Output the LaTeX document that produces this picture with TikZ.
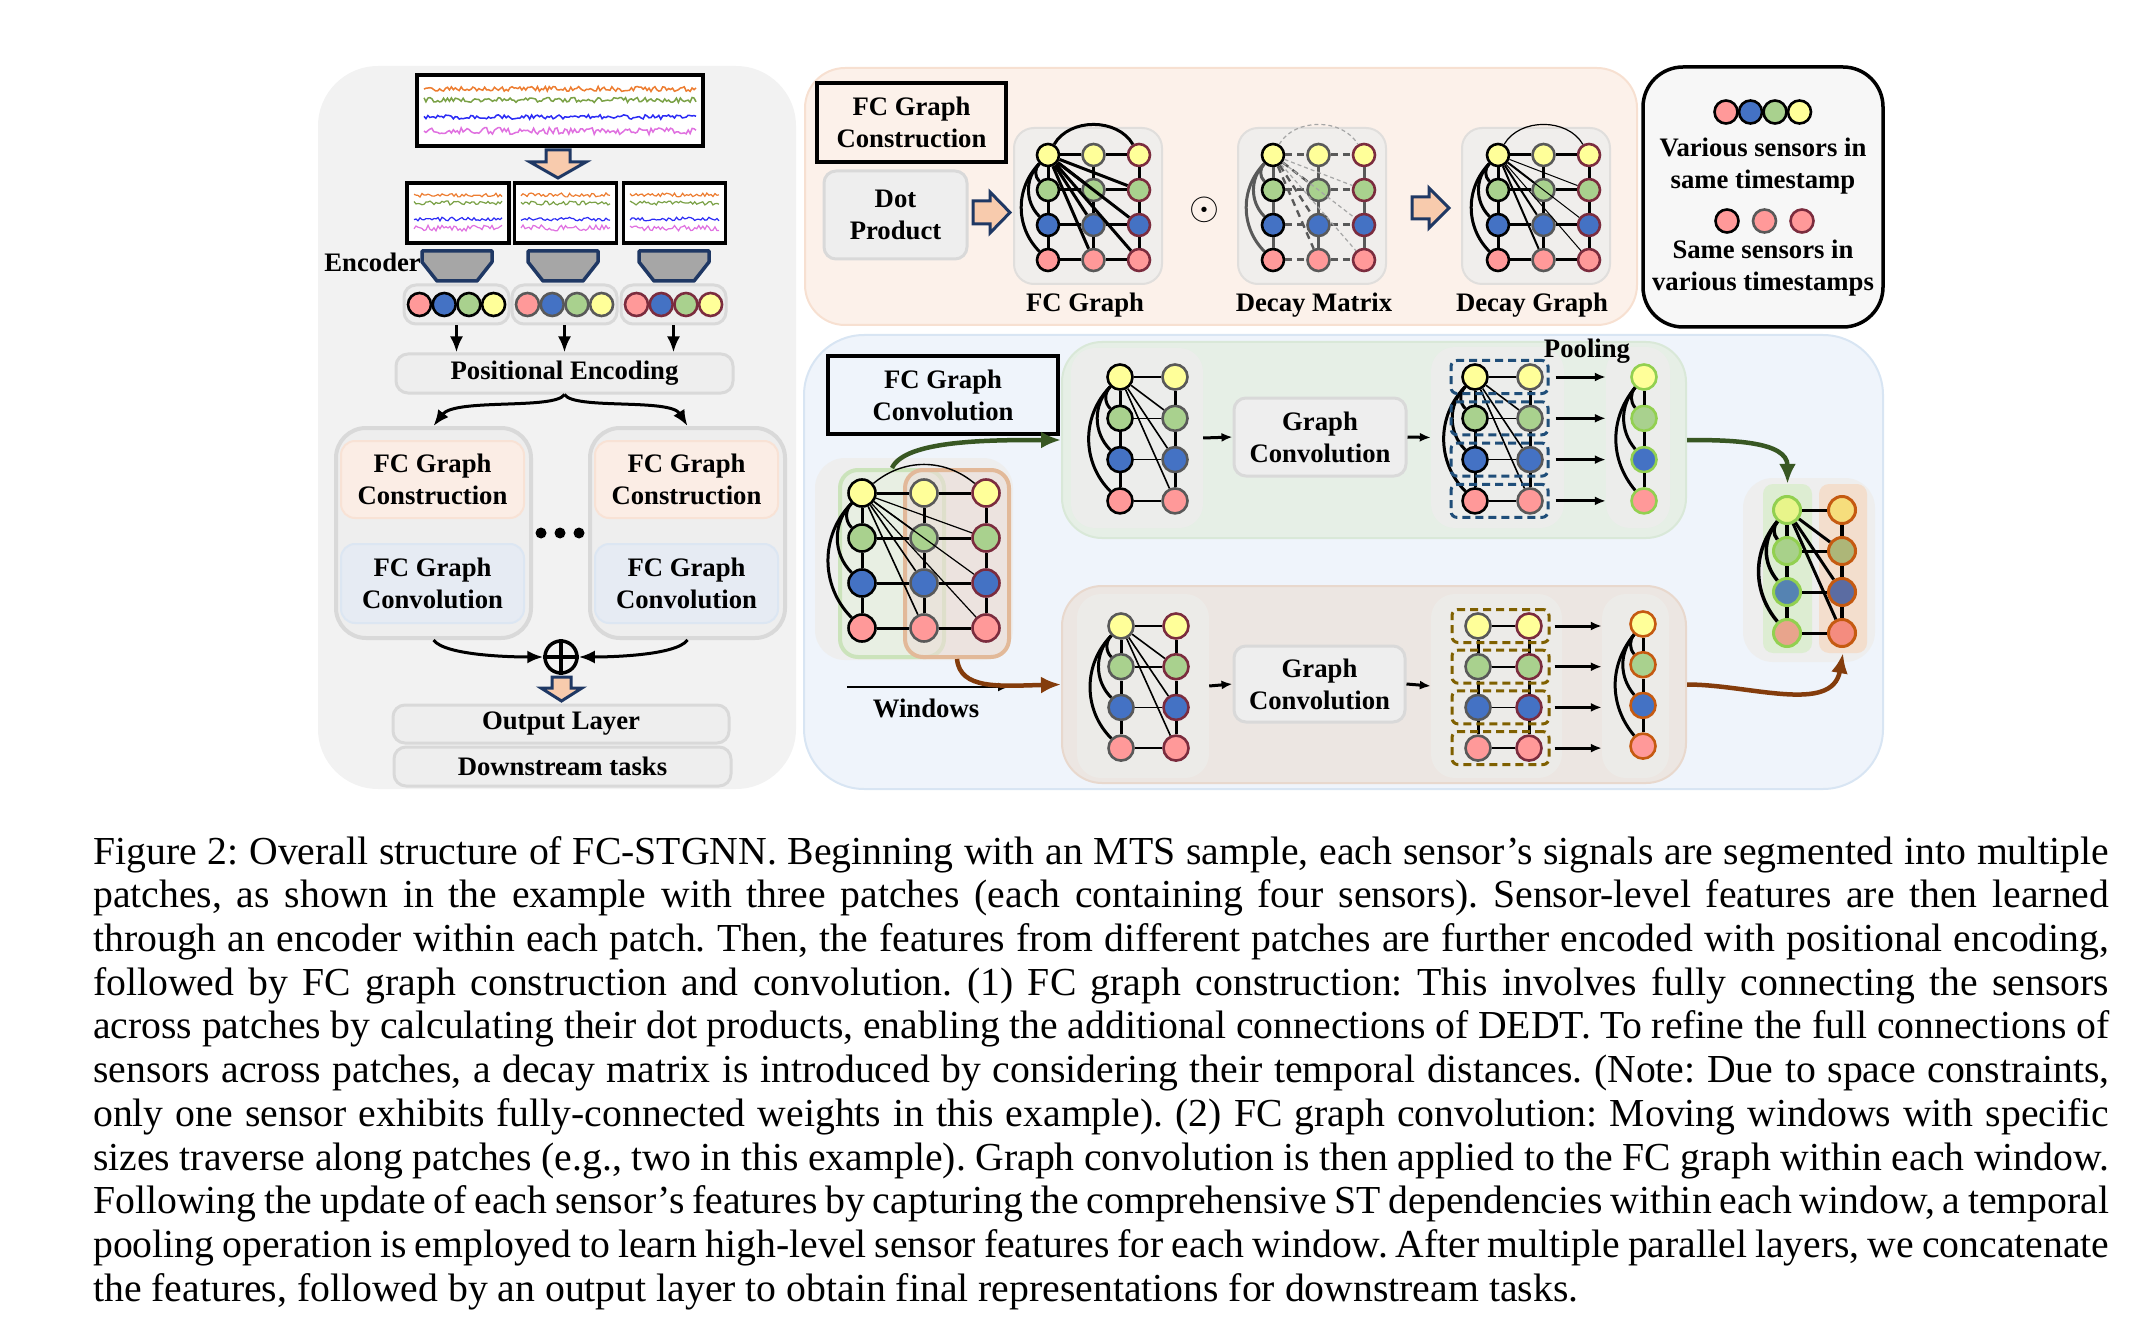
\documentclass[tikz,border=0pt]{standalone}
\usepackage{fontspec}
\setmainfont{Liberation Serif}
\usetikzlibrary{arrows.meta,positioning,calc}

% sensor colours
\definecolor{sy}{HTML}{FFFF99}
\definecolor{sg}{HTML}{A9D18E}
\definecolor{sb}{HTML}{4472C4}
\definecolor{sp}{HTML}{FF9999}
\definecolor{bgray}{HTML}{595959}
\definecolor{bmaroon}{HTML}{7B2C3E}
\definecolor{bgreen}{HTML}{92D050}
\definecolor{borange}{HTML}{C55A11}
% output graph colours
\definecolor{og1}{HTML}{E8F58A}
\definecolor{og2}{HTML}{A8D18A}
\definecolor{og3}{HTML}{5583B2}
\definecolor{og4}{HTML}{E8A48C}
\definecolor{ob1}{HTML}{F6DD7C}
\definecolor{ob2}{HTML}{ADB678}
\definecolor{ob3}{HTML}{5B6CA2}
\definecolor{ob4}{HTML}{F48C7F}
% boxes and arrows
\definecolor{navy}{HTML}{1F3864}
\definecolor{peach}{HTML}{F8CBAD}
\definecolor{encgray}{HTML}{A6A6A6}
\definecolor{panelgray}{HTML}{F2F2F2}
\definecolor{boxfill}{HTML}{EEEEEE}
\definecolor{boxline}{HTML}{D9D9D9}
\definecolor{confill}{HTML}{FBEDE5}
\definecolor{conline}{HTML}{F8E2D5}
\definecolor{cvfill}{HTML}{E6EBF3}
\definecolor{cvline}{HTML}{DCE6F2}
\definecolor{toppanel}{HTML}{FCF1EA}
\definecolor{topline}{HTML}{F7E0D1}
\definecolor{gpanel}{HTML}{F0EEEC}
\definecolor{gline}{HTML}{E0DEDC}
\definecolor{botpanel}{HTML}{EFF4FB}
\definecolor{botline}{HTML}{D8E5F3}
\definecolor{uppanel}{HTML}{E6EFE6}
\definecolor{upline}{HTML}{D9E8D8}
\definecolor{lopanel}{HTML}{ECE6E2}
\definecolor{loline}{HTML}{E8D8CD}
\definecolor{subfill}{HTML}{ECEDEB}
\definecolor{winbrown}{HTML}{EBDDD6}
\definecolor{winbrownline}{HTML}{E2B999}
\definecolor{darkgreen}{HTML}{385723}
\definecolor{darkbrown}{HTML}{843C0C}
\definecolor{dashblue}{HTML}{1F4E79}
\definecolor{dasholive}{HTML}{7F6000}
\definecolor{sigorange}{HTML}{ED7D31}
\definecolor{siggreen}{HTML}{7AA146}
\definecolor{sigblue}{HTML}{2B2BF5}
\definecolor{sigpink}{HTML}{E070E0}

\newcommand{\lblfont}{\fontsize{26.7}{32}\selectfont\bfseries}

\tikzset{
  sensor/.style={circle, draw, line width=2.6pt, inner sep=0pt},
  lbl/.style={font=\lblfont, align=center, inner sep=0pt},
  softbox/.style={draw=boxline, fill=boxfill, line width=3pt, rounded corners=12pt},
  plainbox/.style={draw=black, line width=3.5pt},
  blockarrow/.style={fill=peach, draw=navy, line width=3pt},
  arr/.style={-{Latex[length=16pt,width=13pt]}, line width=3.5pt},
  smallarr/.style={-{Latex[length=11pt,width=9pt]}, line width=3pt},
  bigarr/.style={-{Latex[length=20pt,width=17pt]}, line width=4.5pt},
  edge/.style={line width=3pt},
  thinedge/.style={line width=1.6pt},
  dashedge/.style={line width=3pt, draw=bgray, dash pattern=on 7pt off 5pt},
  dbox/.style={line width=3pt, dash pattern=on 8pt off 5pt, rounded corners=6pt,
    minimum width=97pt, minimum height=33pt},
}

% sensors of a graph: name, x, y, dx, dy, size, column/border list
\newcommand{\sensorgrid}[7]{%
  \foreach \cl/\bc in {#7}{%
    \foreach \rw/\fc in {1/sy,2/sg,3/sb,4/sp}{%
      \node[sensor, minimum size=#6, draw=\bc, fill=\fc] (#1\cl\rw)
        at ({#2+(\cl-1)*#4},{#3+(\rw-1)*#5}) {};
    }}}
% grid edges: name, columns, column pairs, vertical style, horizontal style
\newcommand{\gridedges}[5]{%
  \foreach \cl in {#2}{\foreach \rw/\nx in {1/2,2/3,3/4} \draw[#4] (#1\cl\rw) -- (#1\cl\nx);}
  \foreach \rw in {1,...,4}{\foreach \cl/\nx in {#3} \draw[#5] (#1\cl\rw) -- (#1\nx\rw);}}

\begin{document}
\begin{tikzpicture}[x=1pt, y=-1pt]
\useasboundingbox (0,0) rectangle (2141,1321);

% ------------------------------------------------ left column
\node[fill=panelgray, rounded corners=60pt, minimum width=478pt, minimum height=723pt] (left) at (557,427.5) {};
\node[plainbox, fill=white, minimum width=286pt, minimum height=71pt] (mts) at (560,110.5) {};
\pgfmathsetseed{11}
\foreach \col/\yy/\amp in {sigorange/89/2.5, siggreen/100/2.5, sigblue/117/2.2, sigpink/131/3.5}
  \draw[\col, line width=1.5pt] plot[domain=424:696, samples=140] (\x,{\yy+\amp*rand});
\draw[blockarrow] (546,150) -- (570,150) -- (570,162) -- (586,162) -- (558,178) -- (530,162) -- (546,162) -- cycle;

\foreach \i/\cx/\lo/\hi in {1/458/414/502, 2/565.5/521/610, 3/674.5/630/719}{
  \node[plainbox, fill=white, minimum width=102pt, minimum height=60pt] (patch\i) at (\cx,213) {};
  \foreach \col/\yy/\amp in {sigorange/195/2, siggreen/203/2, sigblue/219/1.8, sigpink/228/3}
    \draw[\col, line width=1.2pt] plot[domain=\lo:\hi, samples=45] (\x,{\yy+\amp*rand});
}
\foreach \L in {422,528,639}
  \draw[fill=encgray, draw=navy, line width=3.5pt, line join=round]
    (\L,251) -- ++(70,0) -- ++(0,11) -- ++(-15,19) -- ++(-40,0) -- ++(-15,-19) -- cycle;
\node[lbl, anchor=east] (enc) at (421,262) {Encoder};

\node[softbox, lbl, minimum width=337pt, minimum height=39pt] (pe) at (564.5,373.5) {Positional Encoding};
\foreach \i/\cx/\bc in {1/456.5/black, 2/564.5/bgray, 3/673.5/bmaroon}{
  \node[softbox, minimum width=105pt, minimum height=39pt] (grp\i) at (\cx,304.5) {};
  \foreach \k/\fc in {1/sp,2/sb,3/sg,4/sy}
    \node[sensor, minimum size=23pt, draw=\bc, fill=\fc] (grp\i-\k) at ({\cx-37+(\k-1)*24.7},304.5) {};
  \draw[arr] (grp\i.south) -- (grp\i.south |- pe.north);
}

\foreach \i/\cx in {1/433.5, 2/687.5}{
  \node[softbox, line width=4pt, rounded corners=30pt, minimum width=195pt, minimum height=210pt] (blk\i) at (\cx,533) {};
  \node[lbl, fill=confill, draw=conline, line width=2pt, rounded corners=14pt, minimum width=183pt, minimum height=77pt]
    (con\i) at (\cx-1,479.5) {FC Graph\\Construction};
  \node[lbl, fill=cvfill, draw=cvline, line width=2pt, rounded corners=14pt, minimum width=183pt, minimum height=79pt]
    (cv\i) at (\cx-1,583.5) {FC Graph\\Convolution};
}
\foreach \dx in {541,560,579} \fill (\dx,533) circle (5.5pt);
\draw[arr, line width=3pt] (pe.south) .. controls (555,410) and (455,398) .. (blk1.north);
\draw[arr, line width=3pt] (pe.south) .. controls (574,410) and (670,398) .. (blk2.north);

\node[circle, draw, line width=3.5pt, minimum size=32pt, inner sep=0pt] (plus) at (561,657) {};
\draw[line width=3.5pt] (plus.north) -- (plus.south) (plus.west) -- (plus.east);
\draw[arr, line width=3pt] (blk1.south) .. controls (445,656) and (515,657) .. (plus.west);
\draw[arr, line width=3pt] (blk2.south) .. controls (676,656) and (606,657) .. (plus.east);
\draw[blockarrow] (552,677) -- (571,677) -- (571,688) -- (582,688) -- (561.5,701) -- (541,688) -- (552,688) -- cycle;
\node[softbox, lbl, minimum width=336pt, minimum height=38pt] (outl) at (561,724) {Output Layer};
\node[softbox, lbl, minimum width=337pt, minimum height=39pt] (down) at (562.5,766.5) {Downstream tasks};

% ------------------------------------------------ FC graph construction
\node[fill=toppanel, draw=topline, line width=2pt, rounded corners=40pt, minimum width=832pt, minimum height=257pt] (top) at (1221,196.5) {};
\node[plainbox, lbl, minimum width=189pt, minimum height=79pt] (fcgc) at (911.5,122.5) {FC Graph\\Construction};
\node[softbox, lbl, minimum width=143pt, minimum height=88pt] (dot) at (895.5,215) {Dot\\Product};
\draw[blockarrow] (973,201) -- (990,201) -- (990,192) -- (1010,212.5) -- (990,233) -- (990,224) -- (973,224) -- cycle;
\draw[blockarrow] (1412,197) -- (1429,197) -- (1429,188) -- (1449,208) -- (1429,228) -- (1429,219) -- (1412,219) -- cycle;
\foreach \n/\cx in {gp1/1088, gp2/1312, gp3/1536}
  \node[fill=gpanel, draw=gline, line width=2pt, rounded corners=20pt, minimum width=148pt, minimum height=156pt] (\n) at (\cx,206) {};
\node[font=\lblfont, scale=1.55, inner sep=0pt] (odot) at (1204,210) {$\odot$};
\node[lbl] (fclbl) at (1085,305) {FC Graph};
\node[lbl] (dmlbl) at (1314,305) {Decay Matrix};
\node[lbl] (dglbl) at (1532,305) {Decay Graph};

% FC graph
\sensorgrid{fc}{1048}{155}{45.5}{35}{22pt}{1/black,2/bgray,3/bmaroon}
\gridedges{fc}{1,2,3}{1/2,2/3}{edge}{edge}
\foreach \rw in {2,3,4}{
  \draw[edge] (fc11) to[bend right=45] (fc1\rw);
  \draw[edge] (fc11) -- (fc2\rw);
  \draw[edge] (fc11) -- (fc3\rw);}
\draw[edge] (fc11) to[bend left=60] (fc31);

% decay matrix
\sensorgrid{dm}{1273}{155}{45.5}{35}{22pt}{1/black,2/bgray,3/bmaroon}
\gridedges{dm}{1,2,3}{1/2,2/3}{edge, draw=bgray}{dashedge}
\foreach \rw in {2,3,4}{
  \draw[edge, draw=bgray] (dm11) to[bend right=45] (dm1\rw);
  \draw[dashedge, line width=2.4pt] (dm11) -- (dm2\rw);
  \draw[dashedge, line width=1.2pt, draw=gray!70, dash pattern=on 4pt off 3pt] (dm11) -- (dm3\rw);}
\draw[dashedge, line width=1.2pt, draw=gray!70, dash pattern=on 4pt off 3pt] (dm11) to[bend left=60] (dm31);

% decay graph
\sensorgrid{dg}{1498}{155}{45.5}{35}{22pt}{1/black,2/bgray,3/bmaroon}
\gridedges{dg}{1,2,3}{1/2,2/3}{edge}{edge}
\foreach \rw in {2,3,4}{
  \draw[edge] (dg11) to[bend right=45] (dg1\rw);
  \draw[line width=2pt] (dg11) -- (dg2\rw);
  \draw[line width=1pt] (dg11) -- (dg3\rw);}
\draw[line width=1.2pt] (dg11) to[bend left=60] (dg31);

% legend
\node[draw=black, fill=white!97!black, line width=3.5pt, rounded corners=40pt, minimum width=240pt, minimum height=260pt] (legend) at (1763,197) {};
\foreach \k/\cx/\fc in {1/1726/sp, 2/1750.5/sb, 3/1775/sg, 4/1799.5/sy}
  \node[sensor, minimum size=23pt, fill=\fc] (lga\k) at (\cx,112) {};
\foreach \k/\cx/\bc in {1/1727/black, 2/1764.5/bgray, 3/1802/bmaroon}
  \node[sensor, minimum size=23pt, draw=\bc, fill=sp] (lgb\k) at (\cx,221) {};
\node[lbl] (lgta) at (1763,166) {Various sensors in\\same timestamp};
\node[lbl] (lgtb) at (1763,268.5) {Same sensors in\\various timestamps};

% ------------------------------------------------ FC graph convolution
\node[fill=botpanel, draw=botline, line width=2pt, rounded corners=60pt, minimum width=1079pt, minimum height=454pt] (bot) at (1343.5,562) {};
\node[plainbox, lbl, minimum width=230pt, minimum height=78pt] (fcconv) at (943,395) {FC Graph\\Convolution};

% windows over the patches
\node[fill=boxfill, rounded corners=30pt, minimum width=198pt, minimum height=202pt] (wbg) at (914,559) {};
\node[fill=sg!30, fill opacity=0.6, draw=sg!60, line width=4pt, rounded corners=18pt, minimum width=104pt, minimum height=187pt] (wgreen) at (892,563.5) {};
\node[fill=winbrown, fill opacity=0.6, draw=winbrownline, line width=4pt, rounded corners=18pt, minimum width=104pt, minimum height=187pt] (wbrown) at (957,563.5) {};
\sensorgrid{wg}{862}{493}{62}{45}{27pt}{1/black,2/bgray,3/bmaroon}
\gridedges{wg}{1,2,3}{1/2,2/3}{edge}{edge}
\foreach \rw in {2,3,4}{
  \draw[edge] (wg11) to[bend right=45] (wg1\rw);
  \draw[thinedge] (wg11) -- (wg2\rw);
  \draw[line width=1.2pt] (wg11) -- (wg3\rw);}
\draw[line width=1.4pt] (wg11) to[bend left=40] (wg31);
\coordinate (wa) at (847,687);
\coordinate (wb) at (1009,687);
\draw[smallarr, line width=2.5pt] (wa) -- (wb);
\node[lbl] (wlbl) at (926,708) {Windows};

% upper window
\node[fill=uppanel, draw=upline, line width=2pt, rounded corners=40pt, minimum width=624pt, minimum height=196pt] (up) at (1374,440) {};
\node[fill=subfill, rounded corners=24pt, minimum width=132pt, minimum height=180pt] (u1) at (1137,438) {};
\node[fill=subfill, rounded corners=24pt, minimum width=133pt, minimum height=181pt] (u2) at (1497.5,437.5) {};
\node[fill=subfill, rounded corners=24pt, minimum width=64pt, minimum height=181pt] (u3) at (1638,437.5) {};
\node[softbox, lbl, minimum width=172pt, minimum height=78pt] (gcu) at (1320,437) {Graph\\Convolution};
\sensorgrid{ua}{1120}{377}{55}{41.3}{25pt}{1/black,2/bgray}
\gridedges{ua}{1,2}{1/2}{edge}{thinedge}
\foreach \rw in {2,3,4}{
  \draw[edge] (ua11) to[bend right=45] (ua1\rw);
  \draw[thinedge] (ua11) -- (ua2\rw);}
\sensorgrid{ub}{1475}{377}{55}{41.3}{25pt}{1/black,2/bgray}
\gridedges{ub}{1,2}{1/2}{edge}{thinedge}
\foreach \rw in {2,3,4}{
  \draw[edge] (ub11) to[bend right=45] (ub1\rw);
  \draw[thinedge] (ub11) -- (ub2\rw);}
\foreach \rw in {1,...,4}{
  \node[dbox, draw=dashblue] (ud\rw) at (1499.5,{377+(\rw-1)*41.3}) {};
  \draw[smallarr] (ud\rw.east) ++(6,0) -- (ud\rw.east -| u3.west);}
\foreach \rw/\fc in {1/sy,2/sg,3/sb,4/sp}
  \node[sensor, minimum size=25pt, draw=bgreen, fill=\fc] (pa\rw) at (1644,{377+(\rw-1)*41.3}) {};
\foreach \rw/\nx in {1/2,2/3,3/4} \draw[edge] (pa\rw) -- (pa\nx);
\foreach \rw in {2,3,4} \draw[edge] (pa1) to[bend right=40] (pa\rw);
\draw[smallarr] (u1.east) -- (gcu.west);
\draw[smallarr] (gcu.east) -- (u2.west);
\node[lbl] (pool) at (1587,351) {Pooling};

% lower window
\node[fill=lopanel, draw=loline, line width=2pt, rounded corners=40pt, minimum width=624pt, minimum height=197pt] (lo) at (1374,684.5) {};
\node[fill=subfill!70!lopanel, rounded corners=24pt, minimum width=132pt, minimum height=184pt] (l1) at (1143,686) {};
\node[fill=subfill!70!lopanel, rounded corners=24pt, minimum width=131pt, minimum height=184pt] (l2) at (1496.5,686) {};
\node[fill=subfill!70!lopanel, rounded corners=24pt, minimum width=67pt, minimum height=184pt] (l3) at (1635.5,686) {};
\node[softbox, lbl, minimum width=171pt, minimum height=76pt] (gcl) at (1319.5,684) {Graph\\Convolution};
\sensorgrid{la}{1121}{626}{55}{40.7}{25pt}{1/bgray,2/bmaroon}
\gridedges{la}{1,2}{1/2}{edge}{thinedge}
\foreach \rw in {2,3,4}{
  \draw[edge] (la11) to[bend right=45] (la1\rw);
  \draw[thinedge] (la11) -- (la2\rw);}
\sensorgrid{lb}{1478}{626}{51}{40.7}{25pt}{1/bgray,2/bmaroon}
\gridedges{lb}{1,2}{1/2}{edge}{thinedge}
\foreach \rw in {1,...,4}{
  \node[dbox, draw=dasholive] (ld\rw) at (1500.5,{626+(\rw-1)*40.7}) {};
  \draw[smallarr] (ld\rw.east) ++(4,0) -- (ld\rw.east -| l3.west);}
\foreach \rw/\fc in {1/sy,2/sg,3/sb,4/sp}
  \node[sensor, minimum size=25pt, draw=borange, fill=\fc] (pb\rw) at (1643,{624+(\rw-1)*40.7}) {};
\foreach \rw/\nx in {1/2,2/3,3/4} \draw[edge] (pb\rw) -- (pb\nx);
\foreach \rw in {2,3,4} \draw[edge] (pb1) to[bend right=40] (pb\rw);
\draw[smallarr] (l1.east) -- (gcl.west);
\draw[smallarr] (gcl.east) -- (l2.west);

% output graph
\node[fill=boxfill, rounded corners=30pt, minimum width=132pt, minimum height=184pt] (obg) at (1809,570) {};
\node[fill=sg!40, rounded corners=10pt, minimum width=49pt, minimum height=169pt] (ogreen) at (1787.5,568.5) {};
\node[fill=peach!60!brown!40, rounded corners=10pt, minimum width=48pt, minimum height=169pt] (obrown) at (1843,568.5) {};
\foreach \rw in {1,...,4}{
  \node[sensor, minimum size=27pt, line width=3pt, draw=bgreen, fill=og\rw] (oa\rw) at (1787,{510+(\rw-1)*41}) {};
  \node[sensor, minimum size=27pt, line width=3pt, draw=borange, fill=ob\rw] (ob\rw) at (1842,{510+(\rw-1)*41}) {};
  \draw[edge] (oa\rw) -- (ob\rw);}
\foreach \rw/\nx in {1/2,2/3,3/4} \draw[edge, line width=3.5pt] (oa\rw) -- (oa\nx) (ob\rw) -- (ob\nx);
\foreach \rw in {2,3,4}{
  \draw[edge, line width=3.5pt] (oa1) to[bend right=40] (oa\rw);
  \draw[edge] (oa1) -- (ob\rw);}

% window arrows
\draw[bigarr, darkgreen] (wgreen.north) .. controls (905,440) and (990,440) .. (up.west);
\draw[bigarr, darkbrown] (wbrown.south) .. controls (960,690) and (1000,686) .. (lo.west);
\draw[bigarr, darkgreen] (up.east) to[out=0, in=90] (ogreen.north);
\draw[bigarr, darkbrown] (lo.east) to[out=0, in=-100] (obrown.south);

% ------------------------------------------------ caption
\node[anchor=north west, text width=2016pt, align=justify, inner sep=0pt,
  font=\fontsize{39.7}{43.7}\selectfont] (cap) at (93,836)
{\frenchspacing\hyphenpenalty=10000
Figure 2: Overall structure of FC-STGNN. Beginning with an MTS sample, each sensor's signals are segmented into multiple\linebreak
patches, as shown in the example with three patches (each containing four sensors). Sensor-level features are then learned\linebreak
through an encoder within each patch. Then, the features from different patches are further encoded with positional encoding,\linebreak
followed by FC graph construction and convolution. (1) FC graph construction: This involves fully connecting the sensors\linebreak
across patches by calculating their dot products, enabling the additional connections of DEDT. To refine the full connections of\linebreak
sensors across patches, a decay matrix is introduced by considering their temporal distances. (Note: Due to space constraints,\linebreak
only one sensor exhibits fully-connected weights in this example). (2) FC graph convolution: Moving windows with specific\linebreak
sizes traverse along patches (e.g., two in this example). Graph convolution is then applied to the FC graph within each window.\linebreak
Following the update of each sensor's features by capturing the comprehensive ST dependencies within each window, a temporal\linebreak
pooling operation is employed to learn high-level sensor features for each window. After multiple parallel layers, we concatenate\linebreak
the features, followed by an output layer to obtain final representations for downstream tasks.};
\end{tikzpicture}
\end{document}
